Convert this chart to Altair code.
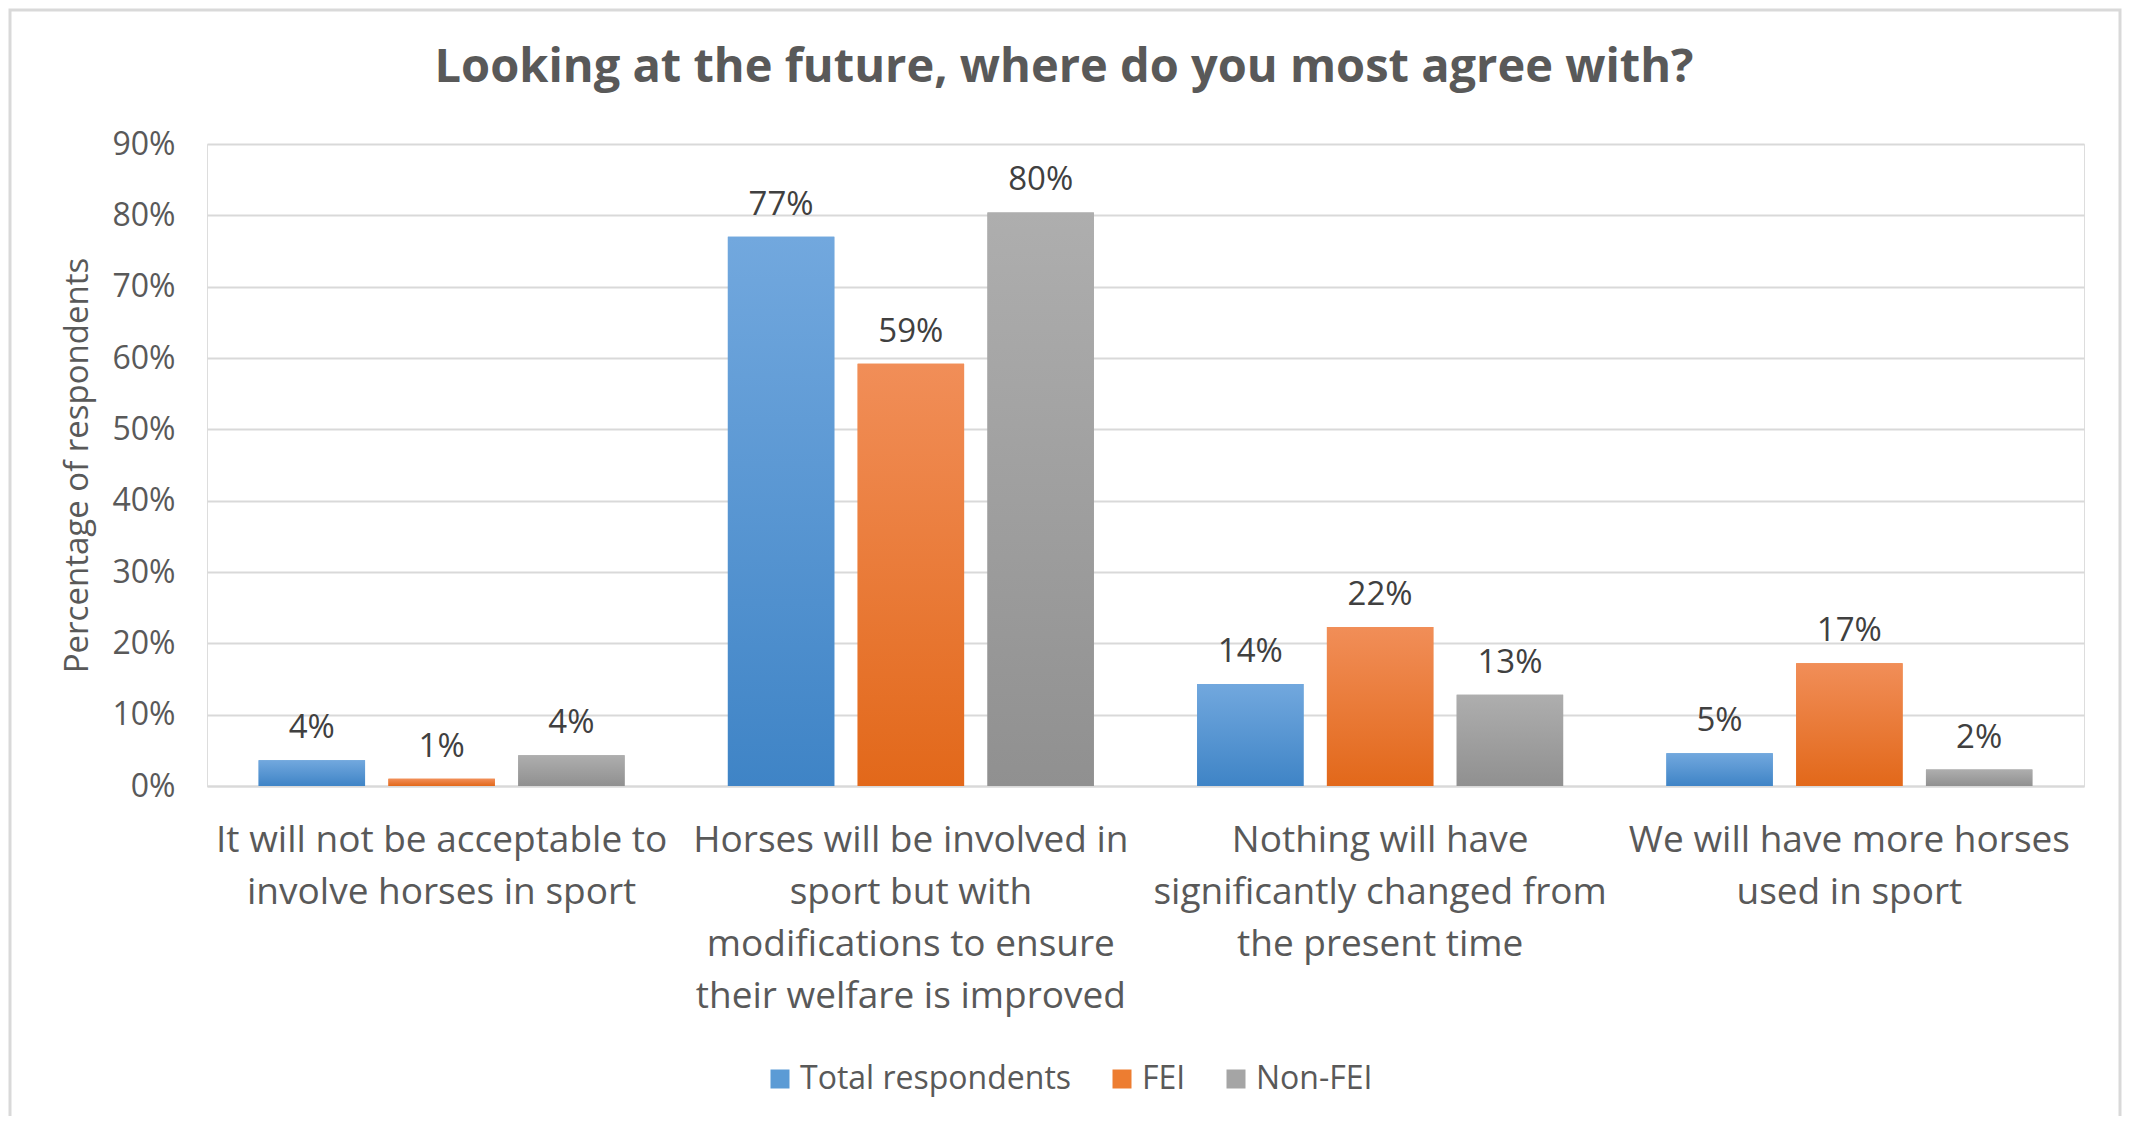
import altair as alt
import pandas as pd

# ---- data ----
categories = [
    "It will not be acceptable to|involve horses in sport",
    "Horses will be involved in|sport but with|modifications to ensure|their welfare is improved",
    "Nothing will have|significantly changed from|the present time",
    "We will have more horses|used in sport",
]
series = ["Total respondents", "FEI", "Non-FEI"]
total_vals = [3.6, 77.0, 14.3, 4.6]
fei_vals = [1.0, 59.2, 22.3, 17.2]
nonfei_vals = [4.3, 80.4, 12.8, 2.3]
y_ticks = [0, 10, 20, 30, 40, 50, 60, 70, 80, 90]
title_text = "Looking at the future, where do you most agree with?"

rows = []
for name, vals in zip(series, [total_vals, fei_vals, nonfei_vals]):
    for c, v in zip(categories, vals):
        rows.append({"category": c, "series": name, "value": v})
df = pd.DataFrame(rows)

FONT = "Open Sans"
W, H = 1877, 642

solid = ["#5b9bd5", "#ed7d31", "#a5a5a5"]


def grad(top, bottom):
    return alt.Gradient(
        gradient="linear",
        stops=[alt.GradientStop(color=top, offset=0),
               alt.GradientStop(color=bottom, offset=1)],
        x1=0, x2=0, y1=0, y2=1,
    )


g_blue = grad("#72a8de", "#3f84c6")
g_orange = grad("#f18e58", "#e2681a")
g_gray = grad("#aeaeae", "#909090")

x_enc = alt.X(
    "category:N", sort=categories, title=None,
    scale=alt.Scale(paddingInner=0.22, paddingOuter=0.11),
    axis=alt.Axis(
        labelExpr="split(datum.label, '|')",
        labelAngle=0, labelFontSize=37, labelColor="#595959", labelFont=FONT,
        labelLineHeight=52, labelLimit=800, labelPadding=36,
        ticks=False, domainColor="#d9d9d9", domainWidth=2, grid=False,
    ),
)
xoff = alt.XOffset("series:N", sort=series,
                   scale=alt.Scale(domain=series, paddingInner=0.18, paddingOuter=0))
y_enc = alt.Y(
    "value:Q", title="Percentage of respondents",
    scale=alt.Scale(domain=[0, 90], nice=False),
    axis=alt.Axis(
        values=y_ticks, labelExpr="datum.value + '%'",
        labelFontSize=32, labelColor="#595959", labelFont=FONT, labelPadding=32,
        ticks=False, domain=False, gridColor="#d9d9d9", gridWidth=2,
        titleFontSize=33, titleFont=FONT, titleColor="#595959", titleFontWeight="normal",
        titleX=-130, titleY=H / 2, titleAngle=-90, titleAlign="center", titleBaseline="middle",
    ),
)

base = alt.Chart(df)

legend_bars = base.mark_bar().encode(
    x=x_enc, xOffset=xoff, y=y_enc,
    color=alt.Color(
        "series:N", sort=series,
        scale=alt.Scale(domain=series, range=solid),
        legend=alt.Legend(
            title=None, orient="none", direction="horizontal",
            legendX=557, legendY=919,
            labelFontSize=32, labelFont=FONT, labelColor="#595959", labelLimit=600,
            symbolType="square", symbolSize=361, symbolStrokeWidth=0,
            labelOffset=4, columnPadding=34,
        ),
    ),
)

grad_bars = base.mark_bar().encode(
    x=x_enc, xOffset=xoff, y=y_enc,
    color=alt.Color(
        value=g_gray,
        condition=[
            {"test": "datum.series === 'Total respondents'", "value": g_blue},
            {"test": "datum.series === 'FEI'", "value": g_orange},
        ],
    ),
)

labels = base.mark_text(
    baseline="alphabetic", dy=-22, fontSize=33, font=FONT, color="#404040"
).transform_calculate(
    label="format(round(datum.value), 'd') + '%'"
).encode(x=x_enc, xOffset=xoff, y=y_enc, text="label:N")

frame = alt.Chart(alt.Data(values=[{}])).mark_rect(
    fillOpacity=0, stroke="#d9d9d9", strokeWidth=3
).encode(
    x=alt.value(-197), x2=alt.value(1913), y=alt.value(-134), y2=alt.value(1200)
)

title = alt.Chart(alt.Data(values=[{"t": title_text}])).mark_text(
    fontSize=47, font=FONT, fontWeight="bold", color="#595959",
    align="center", baseline="middle",
).encode(x=alt.value(857), y=alt.value(-76), text="t:N")

chart = alt.layer(frame, legend_bars, grad_bars, labels, title).properties(
    width=W, height=H,
    autosize=alt.AutoSizeParams(type="none"),
    padding={"left": 199, "top": 136, "right": 39, "bottom": 330},
).configure_view(stroke=None).configure(background="white")

chart.save("out.html", embed_options={"renderer": "svg", "actions": False})
